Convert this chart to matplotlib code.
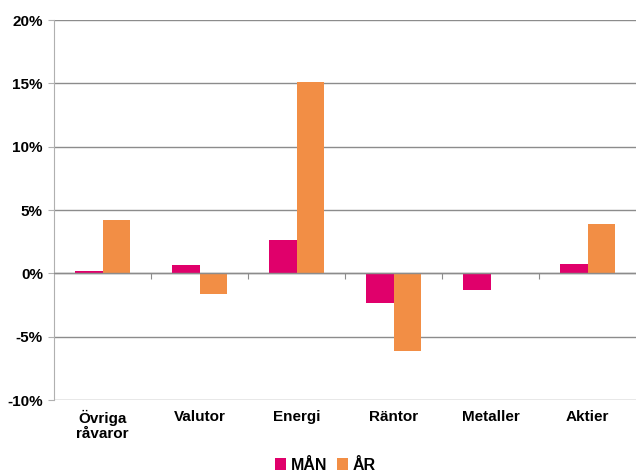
import numpy as np
import matplotlib.pyplot as plt
from matplotlib.ticker import FuncFormatter

categories = ["Övriga\nråvaror", "Valutor", "Energi", "Räntor", "Metaller", "Aktier"]
man_vals = [0.2, 0.65, 2.6, -2.35, -1.35, 0.75]
ar_vals = [4.2, -1.6, 15.1, -6.1, 0.0, 3.9]
y_ticks = [-10, -5, 0, 5, 10, 15, 20]

plt.rcParams['font.family'] = ['Liberation Sans', 'DejaVu Sans']
plt.rcParams['font.weight'] = 'bold'
plt.rcParams['font.size'] = 11

grid_col = "#8c8c8c"
man_col = "#e0006b"
ar_col = "#f28e45"

fig = plt.figure(figsize=(6.36, 4.74), dpi=100)
ax = fig.add_axes([54 / 636, 74 / 474, 1 - 54 / 636, 380 / 474])

x = np.arange(len(categories))
width = 0.28
ax.bar(x - width / 2, man_vals, width, color=man_col, label="MÅN", zorder=3)
ax.bar(x + width / 2, ar_vals, width, color=ar_col, label="ÅR", zorder=3)

ax.set_xlim(-0.5, len(categories) - 0.5)
ax.set_ylim(-10, 20)
ax.set_yticks(y_ticks)
ax.yaxis.set_major_formatter(FuncFormatter(lambda v, p: f"{v:.0f}%"))
ax.grid(axis='y', color=grid_col, linewidth=1, zorder=0)
ax.axhline(0, color=grid_col, linewidth=1, zorder=4)

for s in ['top', 'right', 'bottom']:
    ax.spines[s].set_visible(False)
ax.spines['left'].set_color("#b0b0b0")
ax.tick_params(axis='y', length=4, color="#b0b0b0", pad=4)
ax.set_xticks(x)
ax.set_xticklabels(categories, fontweight='bold', linespacing=1.1)
ax.tick_params(axis='x', length=0, pad=7)

# category boundary ticks on the zero line
sec = ax.secondary_xaxis(1 / 3)
sec.set_xticks(np.arange(0.5, len(categories) - 0.5, 1))
sec.set_xticklabels([])
sec.tick_params(length=4, color=grid_col)
sec.spines['bottom'].set_visible(False)

fig.legend(loc='center', ncol=2, frameon=False, handlelength=0.7,
           handleheight=0.7, handletextpad=0.3, columnspacing=0.6,
           borderpad=0, bbox_to_anchor=(0.512, 9 / 474),
           prop={'weight': 'bold', 'size': 11.5})

fig.savefig("out.png", dpi=100)
